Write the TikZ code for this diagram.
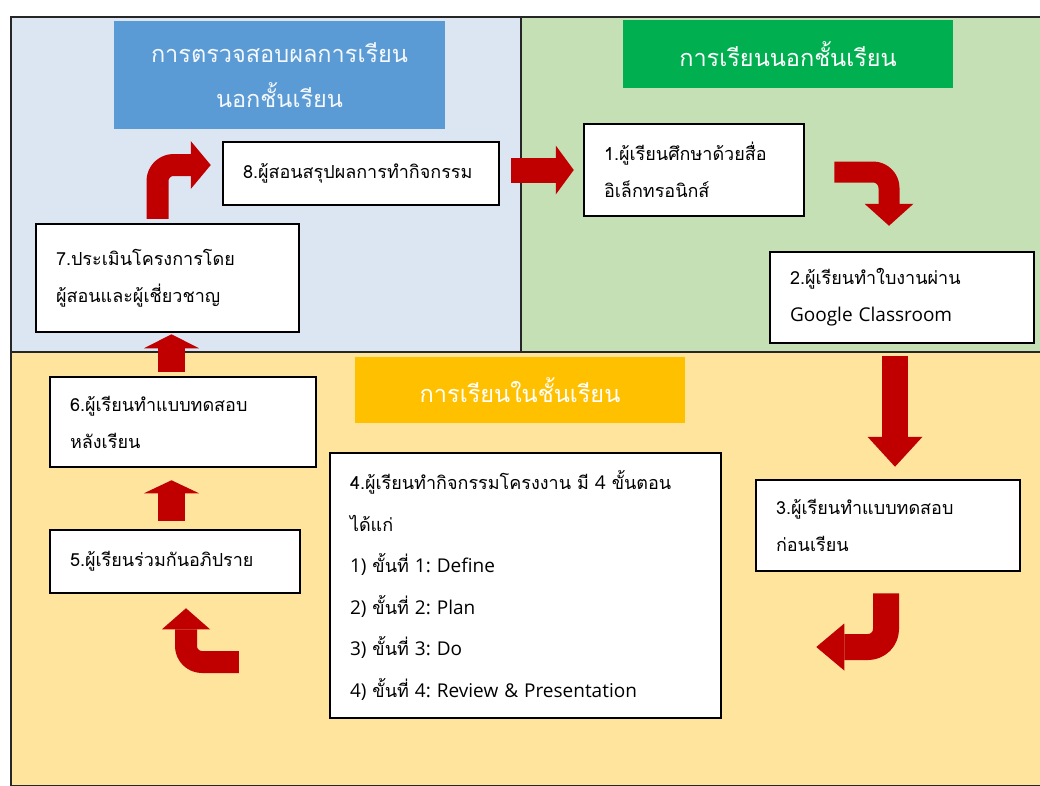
\documentclass[tikz,border=0pt]{standalone}
\usepackage{fontspec}
\setmainfont[Script=Thai]{Loma}
\newfontfamily\latn{Open Sans}
\newcommand{\lt}[1]{{\latn\fontsize{19}{37}\selectfont #1}}
\frenchspacing
\usetikzlibrary{arrows.meta,calc}
\definecolor{bluebg}{HTML}{DCE6F2}
\definecolor{greenbg}{HTML}{C5E0B4}
\definecolor{yellowbg}{HTML}{FFE49E}
\definecolor{bluet}{HTML}{5B9BD5}
\definecolor{greent}{HTML}{00B050}
\definecolor{yellowt}{HTML}{FFC000}
\definecolor{arrowred}{HTML}{C00000}
\begin{document}
\begin{tikzpicture}[x=1pt,y=-1pt,
  box/.style={draw=black, line width=2.5pt, fill=white, inner xsep=20pt, inner ysep=0pt,
    align=left, font=\fontsize{18}{37}\selectfont},
  titlebox/.style={inner sep=0pt, align=center, text=white, font=\fontsize{23.5}{45}\selectfont},
  region/.style={draw=black!85, line width=1.2pt},
  bigarrow/.style n args={3}{draw=arrowred, line width=#1, line cap=butt, line join=round,
    -{Triangle[length=#3, width=#2, line width=0pt]}}
]
\useasboundingbox (0,0) rectangle (1040,785);
\fill[white] (0,0) rectangle (1040,785);
\draw[region, fill=bluebg] (11,17) rectangle (521,352);
\draw[region, fill=greenbg] (521,17) rectangle (1041,352);
\draw[region, fill=yellowbg] (11,352) rectangle (1041,786);

% titles
\node[titlebox, fill=bluet, minimum width=331pt, minimum height=108pt, text=white!93!bluet] (tb) at (279.5,75)
  {การตรวจสอบผลการเรียน\\นอกชั้นเรียน};
\node[titlebox, fill=greent, minimum width=330pt, minimum height=68pt] (tg) at (788,54)
  {การเรียนนอกชั้นเรียน};
\node[titlebox, fill=yellowt, minimum width=330pt, minimum height=66pt] (ty) at (520,390)
  {การเรียนในชั้นเรียน};

% boxes
\node[box, text width=236pt, minimum height=63pt] (b8) at (361,173.5)
  {8.ผู้สอนสรุปผลการทำกิจกรรม};
\node[box, text width=223pt, minimum height=108pt] (b7) at (167.5,278)
  {7.ประเมินโครงการโดย\\ผู้สอนและผู้เชี่ยวชาญ};
\node[box, text width=180pt, minimum height=92pt] (b1) at (694,170)
  {1.ผู้เรียนศึกษาด้วยสื่อ\\อิเล็กทรอนิกส์};
\node[box, text width=224pt, minimum height=91pt] (b2) at (902,297.5)
  {2.ผู้เรียนทำใบงานผ่าน\\\lt{Google Classroom}};
\node[box, text width=224pt, minimum height=91pt] (b3) at (888,525.5)
  {3.ผู้เรียนทำแบบทดสอบ\\ก่อนเรียน};
\node[box, text width=351pt, minimum height=265pt, font=\fontsize{18}{41.5}\selectfont] (b4) at (525.5,585.5)
  {4.ผู้เรียนทำกิจกรรมโครงงาน มี \lt{4} ขั้นตอน\\ได้แก่\\\lt{1)} ขั้นที่ \lt{1: Define}\\\lt{2)} ขั้นที่ \lt{2: Plan}\\\lt{3)} ขั้นที่ \lt{3: Do}\\\lt{4)} ขั้นที่ \lt{4: Review \& Presentation}};
\node[box, text width=226pt, minimum height=90pt] (b6) at (183,422)
  {6.ผู้เรียนทำแบบทดสอบ\\หลังเรียน};
\node[box, text width=210pt, minimum height=63pt] (b5) at (175,561.5)
  {5.ผู้เรียนร่วมกันอภิปราย};

% arrows
\draw[bigarrow={25pt}{49pt}{18pt}] ($(b8.east)+(11,-3.5)$) -- ($(b1.west)+(-9,0)$);
\coordinate (s12) at ($(b1.east)+(29,2)$);
\coordinate (e12) at ($(b2.north)+(-13,-25)$);
\draw[bigarrow={21pt}{49pt}{22pt}, rounded corners=16pt] (s12) -- (s12 -| e12) -- (e12);
\draw[bigarrow={26pt}{55pt}{30pt}] ($(b2.south)+(-7,12)$) -- ($(b3.north)+(7,-12)$);
\coordinate (s34) at ($(b3.south)+(-2,21)$);
\coordinate (e34) at ($(b4.east)+(94,61.5)$);
\draw[bigarrow={26pt}{47pt}{28pt}, rounded corners=18pt] (s34) -- (s34 |- e34) -- (e34);
\coordinate (s45) at ($(b4.west)+(-90,76.5)$);
\coordinate (e45) at ($(b5.south)+(11,14)$);
\draw[bigarrow={22pt}{48pt}{21pt}, rounded corners=16pt] (s45) -- (s45 -| e45) -- (e45);
\draw[bigarrow={27pt}{55pt}{13pt}] ($(b5.north)+(-3.5,-8)$) -- ($(b6.south)+(-11.5,12)$);
\draw[bigarrow={27pt}{55pt}{14pt}] ($(b6.north)+(-11.5,-4)$) -- ($(b7.south)+(4,1)$);
\coordinate (s78) at ($(b7.north)+(-10,-4)$);
\coordinate (e78) at ($(b8.west)+(-11,-8.5)$);
\draw[bigarrow={22pt}{48pt}{20pt}, rounded corners=16pt] (s78) -- (s78 |- e78) -- (e78);
\end{tikzpicture}
\end{document}
